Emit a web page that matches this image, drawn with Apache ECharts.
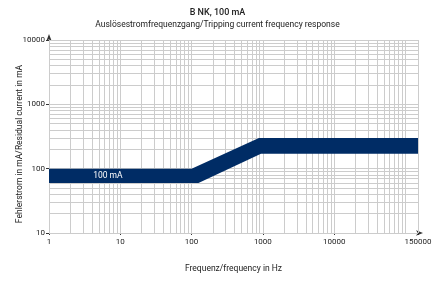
<!DOCTYPE html>
<html>
<head>
<meta charset="utf-8">
<script src="https://cdn.jsdelivr.net/npm/echarts@6/dist/echarts.min.js"></script>
<style>
  html, body { margin: 0; padding: 0; background: #fff; }
  #chart { width: 435px; height: 286px; }
</style>
</head>
<body>
<div id="chart"></div>
<script>
// band boundaries (Hz, mA)
const upperFreq = [1, 100, 880, 150000];
const upperCurrent = [100, 100, 300, 300];
const lowerFreq = [1, 125, 940, 150000];
const lowerCurrent = [60, 60, 170, 170];

const xLabels = [1, 10, 100, 1000, 10000, 150000];
const yLabels = [10, 100, 1000, 10000];
const bandLabel = '100 mA';

// grid lines of the log paper
const xGrid = [];
for (let d = 1; d <= 100000; d *= 10) {
  for (let m = 1; m <= 9; m++) {
    if (d * m <= 150000) xGrid.push(d * m);
  }
}
xGrid.push(150000);
const yGrid = [];
for (let d = 10; d <= 1000; d *= 10) {
  for (let m = 1; m <= 9; m++) yGrid.push(d * m);
}
yGrid.push(10000);

const font = 'Roboto';
const navy = '#002c65';

let myChart = echarts.init(document.getElementById('chart'));
myChart.setOption({
  animation: false,
  title: {
    text: 'B NK, 100 mA',
    subtext: 'Auslösestromfrequenzgang/Tripping current frequency response',
    left: 'center',
    top: 3,
    itemGap: 3,
    textStyle: { fontFamily: font, fontSize: 9, fontWeight: 500, color: '#222' },
    subtextStyle: { fontFamily: font, fontSize: 8.5, color: '#222' }
  },
  grid: { left: 49, right: 17, top: 40, bottom: 53, outerBoundsMode: 'none', containLabel: false },
  xAxis: {
    type: 'log',
    logBase: 10,
    min: 1,
    max: 150000,
    name: 'Frequenz/frequency in Hz',
    nameLocation: 'middle',
    nameGap: 31,
    nameMoveOverlap: false,
    nameTextStyle: { fontFamily: font, fontSize: 8.5, color: '#222' },
    axisLine: { lineStyle: { color: '#333', width: 1 }, symbol: ['none', 'arrow'], symbolSize: [4, 7], symbolOffset: [0, 5] },
    axisTick: { show: true, length: 2, lineStyle: { color: '#333' }, customValues: xLabels },
    axisLabel: { fontFamily: font, fontSize: 8, color: '#222', margin: 5, customValues: xLabels, formatter: v => String(Math.round(v)) },
    splitLine: { show: false }
  },
  yAxis: {
    type: 'log',
    logBase: 10,
    min: 10,
    max: 10000,
    name: 'Fehlerstrom in mA/Residual current in mA',
    nameLocation: 'middle',
    nameRotate: 90,
    nameGap: 25,
    nameMoveOverlap: false,
    nameTextStyle: { fontFamily: font, fontSize: 8.5, color: '#222', padding: [0, 15, 0, 0] },
    axisLine: { lineStyle: { color: '#333', width: 1 }, symbol: ['none', 'arrow'], symbolSize: [4, 7], symbolOffset: [0, 6] },
    axisTick: { show: true, length: 3, lineStyle: { color: '#333' }, customValues: yLabels },
    axisLabel: { fontFamily: font, fontSize: 8, color: '#222', margin: 4, customValues: yLabels, formatter: v => String(Math.round(v)) },
    splitLine: { show: false }
  },
  series: [
    {
      type: 'line',
      data: [],
      silent: true,
      z: 1,
      markLine: {
        silent: true,
        z: 1,
        symbol: ['none', 'none'],
        label: { show: false },
        lineStyle: { color: '#cccccc', width: 1, type: 'solid' },
        data: xGrid.map(v => ({ xAxis: v })).concat(yGrid.map(v => ({ yAxis: v })))
      }
    },
    {
      type: 'custom',
      data: [0],
      silent: true,
      z: 10,
      renderItem: function (params, api) {
        const pts = [];
        for (let i = 0; i < upperFreq.length; i++) pts.push(api.coord([upperFreq[i], upperCurrent[i]]));
        for (let i = lowerFreq.length - 1; i >= 0; i--) pts.push(api.coord([lowerFreq[i], lowerCurrent[i]]));
        const lab = api.coord([6.7, 77]);
        return {
          type: 'group',
          children: [
            { type: 'polygon', shape: { points: pts }, style: { fill: navy } },
            {
              type: 'text',
              x: lab[0], y: lab[1],
              style: { text: bandLabel, fill: '#fff', font: '8.5px ' + font, align: 'center', verticalAlign: 'middle' }
            }
          ]
        };
      }
    }
  ]
});
</script>
</body>
</html>
